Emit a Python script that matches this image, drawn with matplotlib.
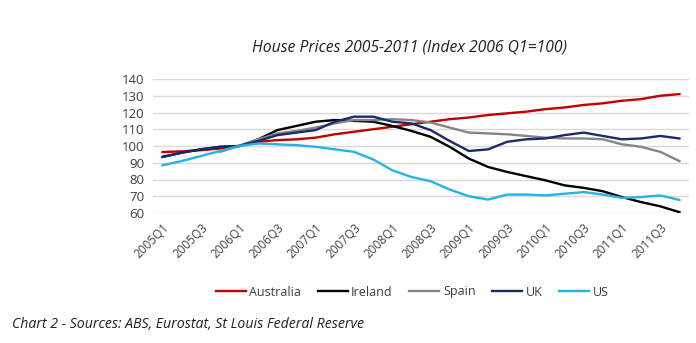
import matplotlib
matplotlib.use("Agg")
import matplotlib.pyplot as plt
import numpy as np

quarters = [f"{y}Q{q}" for y in range(2005, 2012) for q in range(1, 5)]

australia = [96.4, 96.8, 97.5, 98.5, 100, 102.5, 103.5, 104, 105, 107, 108.5, 110, 111.5, 113,
             114.5, 116, 117, 118.5, 119.5, 120.5, 122, 123, 124.5, 125.5, 127, 128, 130, 131]
ireland = [93.5, 96, 98, 99.5, 100, 104, 109.5, 112, 114.5, 115.5, 115, 114.5, 112, 109,
           105.5, 99.5, 92.5, 87.5, 84.5, 82, 79.5, 76.5, 75, 73, 69.5, 66.5, 64, 60.5]
spain = [None, None, None, 96.5, 100, 104, 107.5, 109, 111, 113.5, 115.5, 115.5, 116, 115.5,
         114, 111, 108, 107.5, 107, 106, 105, 104.5, 104.5, 104, 101, 99.5, 96.5, 91]
uk = [93.5, 96, 98, 99.5, 100, 103, 106.5, 108, 109.5, 114.5, 117.5, 117.5, 114.5, 113.5,
      109.5, 103, 97, 98, 102.5, 104, 104.5, 106.5, 108, 106, 104, 104.5, 106, 104.5]
us = [88.5, 91, 94, 97, 100, 101.5, 101, 100.5, 99.5, 98, 96.5, 92, 85.5, 81.5,
      79, 74, 70, 68, 71, 71, 70.5, 71.5, 72.5, 71, 69, 69.5, 70.5, 67.8]

series = [("Australia", australia, "#c00000"),
          ("Ireland", ireland, "#000000"),
          ("Spain", spain, "#858585"),
          ("UK", uk, "#1a2a6c"),
          ("US", us, "#27b1e6")]

yticks = [60, 70, 80, 90, 100, 110, 120, 130, 140]

plt.rcParams['font.family'] = ['Open Sans', 'DejaVu Sans']

fig = plt.figure(figsize=(6.96, 3.43), dpi=100)
ax = fig.add_axes([153/696, 1-213/343, (689-153)/696, (213-79)/343])

x = np.arange(len(quarters))
for name, vals, col in series:
    v = np.array([np.nan if a is None else a for a in vals], dtype=float)
    ax.plot(x, v, color=col, lw=1.7, label=name, solid_joinstyle='round')

ax.set_xlim(-0.5, len(quarters) - 0.5)
ax.set_ylim(60, 140)
ax.set_yticks(yticks)
ax.set_yticklabels([str(t) for t in yticks], fontsize=9.5, color="#404040")
ax.set_xticks(x[::2])
ax.set_xticklabels(quarters[::2], rotation=45, ha='right', va='top',
                   rotation_mode='anchor', fontsize=8.5, color="#404040")
ax.tick_params(length=0, pad=6)
ax.tick_params(axis='x', pad=6)
ax.grid(axis='y', color="#d9d9d9", lw=1)
ax.set_axisbelow(True)
for s in ax.spines.values():
    s.set_visible(False)

fig.text(410/696, 1-47/343, "House Prices 2005-2011 (Index 2006 Q1=100)", ha='center', va='center',
         fontsize=11.3, style='italic', color="#202020")

leg = fig.legend(loc='center', bbox_to_anchor=(412/696, 1-292/343), ncol=5, frameon=False,
                 fontsize=9, handlelength=2.4, handletextpad=0.3, columnspacing=1.3)
for t in leg.get_texts():
    t.set_color("#404040")

fig.text(12/696, 1-325/343, "Chart 2 - Sources: ABS, Eurostat, St Louis Federal Reserve",
         ha='left', va='center', fontsize=10.2, style='italic', color="#202020")

fig.savefig("out.png", dpi=100)
